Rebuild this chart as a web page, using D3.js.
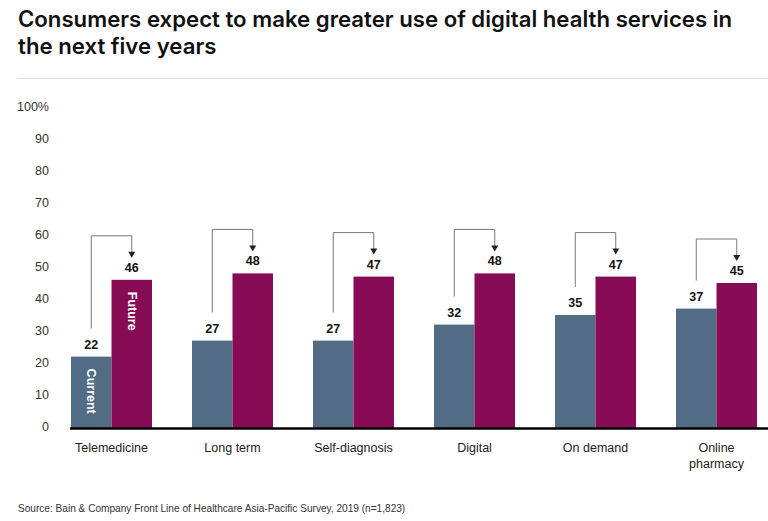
<!DOCTYPE html>
<html>
<head>
<meta charset="utf-8">
<script src="https://cdn.jsdelivr.net/npm/d3@7"></script>
<style>
  body { margin: 0; background: #fff; }
  text { font-family: "Liberation Sans", Arial, sans-serif; }
</style>
</head>
<body>
<script>
var width = 768, height = 521;

var categories = ["Telemedicine", "Long term", "Self-diagnosis", "Digital", "On demand", "Online\npharmacy"];
var series = ["Current", "Future"];
var current = [22, 27, 27, 32, 35, 37];
var future = [46, 48, 47, 48, 47, 45];
var yTicks = [0, 10, 20, 30, 40, 50, 60, 70, 80, 90, 100];
var colors = ["#526c85", "#870c55"];

var data = categories.map(function(c, i) {
  return { cat: c, values: [current[i], future[i]] };
});

var svg = d3.select("body").append("svg")
  .attr("width", width)
  .attr("height", height);

// title
var title = svg.append("text")
  .attr("x", 18)
  .style("font-family", "Inter, sans-serif")
  .style("font-weight", 600)
  .style("font-size", "22.2px")
  .attr("fill", "#111");
title.append("tspan").attr("x", 18).attr("y", 27).text("Consumers expect to make greater use of digital health services in");
title.append("tspan").attr("x", 18).attr("y", 54).text("the next five years");

svg.append("line")
  .attr("x1", 17).attr("x2", 768)
  .attr("y1", 78.5).attr("y2", 78.5)
  .attr("stroke", "#dcdcdc");

var y = d3.scaleLinear().domain([0, 100]).range([427, 107]);

var x = d3.scaleBand()
  .domain(categories)
  .range([71, 757])
  .paddingInner(40 / 121)
  .paddingOuter(0);

var xs = d3.scaleBand()
  .domain(series)
  .range([0, x.bandwidth()]);

// y tick labels
svg.append("g").selectAll("text")
  .data(yTicks)
  .enter().append("text")
  .attr("x", 49)
  .attr("y", function(d) { return y(d); })
  .attr("dy", "0.35em")
  .attr("text-anchor", "end")
  .style("font-size", "12.5px")
  .attr("fill", "#333")
  .text(function(d) { return d === 100 ? "100%" : d; });

var g = svg.append("g").selectAll("g")
  .data(data)
  .enter().append("g")
  .attr("transform", function(d) { return "translate(" + x(d.cat) + ",0)"; });

g.selectAll("rect")
  .data(function(d) { return d.values.map(function(v, i) { return { s: series[i], v: v }; }); })
  .enter().append("rect")
  .attr("x", function(d) { return xs(d.s); })
  .attr("width", xs.bandwidth())
  .attr("y", function(d) { return y(d.v); })
  .attr("height", function(d) { return y(0) - y(d.v) + 1; })
  .attr("fill", function(d, i) { return colors[i]; });

g.selectAll(".val")
  .data(function(d) { return d.values.map(function(v, i) { return { s: series[i], v: v }; }); })
  .enter().append("text")
  .attr("class", "val")
  .attr("x", function(d) { return xs(d.s) + xs.bandwidth() / 2; })
  .attr("y", function(d) { return y(d.v) - 8; })
  .attr("text-anchor", "middle")
  .style("font-size", "12.5px")
  .style("font-weight", "bold")
  .attr("fill", "#111")
  .text(function(d) { return d.v; });

// bracket arrows current -> future
g.append("path")
  .attr("fill", "none")
  .attr("stroke", "#777")
  .attr("stroke-width", 1)
  .attr("d", function(d) {
    var x1 = xs("Current") + xs.bandwidth() / 2,
        x2 = xs("Future") + xs.bandwidth() / 2,
        top = y(d.values[1]) - 44;
    return "M" + x1 + "," + (y(d.values[0]) - 28) + "V" + top + "H" + x2 + "V" + (y(d.values[1]) - 27);
  });

g.append("path")
  .attr("fill", "#222")
  .attr("d", function(d) {
    var x2 = xs("Future") + xs.bandwidth() / 2,
        tip = y(d.values[1]) - 22;
    return "M" + (x2 - 3.5) + "," + (tip - 6) + "L" + (x2 + 3.5) + "," + (tip - 6) + "L" + x2 + "," + tip + "Z";
  });

// category labels
g.append("text")
  .attr("x", x.bandwidth() / 2)
  .attr("y", 452)
  .attr("text-anchor", "middle")
  .style("font-size", "12.5px")
  .attr("fill", "#222")
  .each(function(d) {
    var t = d3.select(this);
    d.cat.split("\n").forEach(function(line, i) {
      t.append("tspan").attr("x", x.bandwidth() / 2).attr("dy", i ? 16 : 0).text(line);
    });
  });

// series labels inside first group
var first = data[0];
series.forEach(function(s, i) {
  var cx = x(first.cat) + xs(s) + xs.bandwidth() / 2,
      ty = y(first.values[i]) + 12;
  svg.append("text")
    .attr("transform", "translate(" + (cx - 4) + "," + ty + ") rotate(90)")
    .style("font-size", "12.5px")
    .style("font-weight", "bold")
    .attr("fill", "#fff")
    .text(s);
});

// baseline
svg.append("line")
  .attr("x1", 70).attr("x2", 768)
  .attr("y1", y(0) + 1.5).attr("y2", y(0) + 1.5)
  .attr("stroke", "#000")
  .attr("stroke-width", 2.5);

svg.append("text")
  .attr("x", 18)
  .attr("y", 512)
  .style("font-size", "10.1px")
  .attr("fill", "#333")
  .text("Source: Bain & Company Front Line of Healthcare Asia-Pacific Survey, 2019 (n=1,823)");
</script>
</body>
</html>
